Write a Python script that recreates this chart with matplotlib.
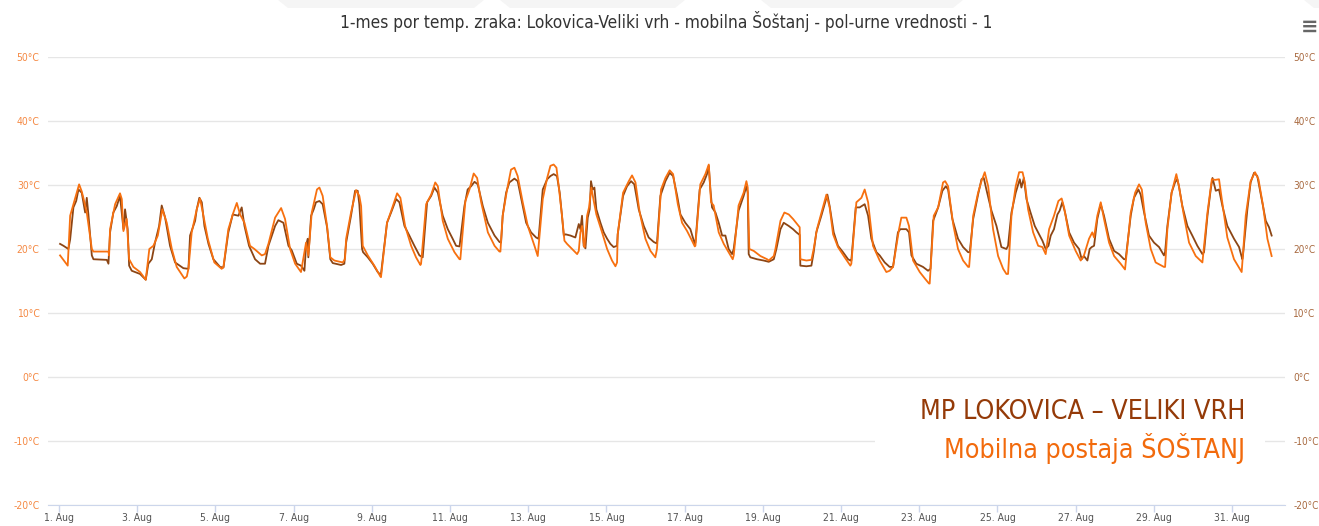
"""
1-mes por temperature zraka: Lokovica-Veliki vrh vs mobilna postaja Šoštanj.
Highcharts-like replica in matplotlib.
"""
import matplotlib
matplotlib.use("Agg")
import matplotlib.pyplot as plt
import matplotlib.dates as mdates
import pandas as pd
from matplotlib import font_manager
from matplotlib.font_manager import FontProperties
from matplotlib.patches import Polygon, Rectangle

plt.rcParams["font.family"] = ["Liberation Sans", "DejaVu Sans"]

# look for a condensed sans face (the reference uses narrow fonts)
_cond = [f for f in font_manager.fontManager.ttflist
         if ("Narrow" in f.name or "Condensed" in f.name or "condensed" in str(f.stretch))
         and f.style == "normal" and f.weight in (400, "normal", "regular")
         and "Serif" not in f.name and "Mono" not in f.name]
COND_FILE = _cond[0].fname if _cond else None

# colours
C_BROWN = "#8c4514"
C_ORANGE = "#f7700f"
C_TXT_BROWN = "#943a08"
C_TXT_ORANGE = "#f26a0c"
C_GRID = "#e6e6e6"
C_AXIS = "#ccd6eb"

START = pd.Timestamp("2019-08-01 00:00")

# --- MP Lokovica - Veliki vrh (hours since 1 Aug 00:00, degC) ---
lok_hours = [
    0.6, 2.7, 5.7, 6.8, 8.8, 10.5, 11.9, 13.9, 16.0, 17.0, 18.0, 20.1, 21.1, 29.3, 30.3,
    31.3, 33.3, 35.4, 37.4, 39.5, 40.5, 42.1, 43.0, 44.6, 49.7, 52.8,
    53.2, 54.8, 56.9, 58.9, 61.4, 63.0, 65.1, 68.1, 71.2, 76.3, 79.4,
    80.4, 83.5, 84.5, 86.1, 87.6, 89.2, 91.7, 94.7, 98.8, 100.9,
    103.9, 106.6, 110.1, 112.1, 113.8, 116.6, 120.3, 123.4, 126.4,
    128.5, 132.6, 134.6, 137.7, 140.8, 142.8, 145.9, 148.5,
    150.6, 151.6, 152.6, 153.0, 154.7, 156.3, 157.7, 159.8, 161.8, 164.5, 166.5, 168.0, 173.1, 175.1,
    176.2, 179.2, 181.7, 183.3, 184.3, 186.0, 186.6, 189.5, 192.5, 195.6, 197.2,
    197.6, 201.3, 203.8, 206.9, 208.9, 212.0, 215.0, 218.1, 221.2, 223.2,
    225.9, 228.4, 230.4, 232.5, 235.5, 238.6, 241.6, 243.7, 245.8,
    248.8, 250.8, 252.9, 255.0, 257.0, 260.1, 263.2, 267.3, 270.3, 271.3,
    272.3, 274.4, 276.4, 279.5, 281.5, 284.6, 286.7, 289.7, 292.8, 294.3,
    296.9, 299.6, 301.6, 303.6, 305.6, 307.3, 308.7, 309.8, 310.8, 313.9, 316.9, 319.0, 320.0, 321.0, 322.0, 323.1,
    324.5, 325.7, 326.5, 327.5, 328.6, 329.8, 332.3, 334.3, 336.4, 338.4, 340.4, 342.5,
    342.9, 346.2, 348.6, 351.1, 353.1, 355.8, 358.9, 361.9, 365.0, 366.6,
    367.0, 369.1, 372.2, 374.8, 376.9, 379.4, 381.4, 384.4, 387.5, 390.2,
    390.6, 393.2, 395.7, 397.7, 398.8, 399.8, 400.8, 402.9, 404.9, 407.0, 409.0, 411.0, 413.1,
    414.1, 417.1, 420.2, 421.9, 422.7, 423.3, 424.3, 428.4, 432.5, 435.6,
    438.7, 440.3, 442.8, 444.8, 447.9, 450.5, 452.6, 454.6, 455.0, 458.7, 461.8, 463.2,
    464.8, 467.9, 469.9, 471.6, 473.0, 475.5, 478.1, 481.2, 484.3, 485.7,
    486.3, 489.0, 491.4, 494.5, 496.6, 498.6, 501.7, 503.7, 506.8, 509.8, 511.9,
    514.9, 516.4, 520.1, 521.7, 523.2, 526.2, 530.3, 533.4, 534.9,
    536.5, 539.6, 542.2, 544.3, 545.7, 548.3, 551.8, 554.9, 558.0, 559.0,
    561.1, 564.1, 566.2, 567.6, 569.2, 572.3, 575.4, 578.4, 581.5, 582.5,
    584.6, 587.2, 589.7, 590.7, 592.2, 593.8, 596.3, 598.9, 601.6,
    603.6, 605.6, 607.3, 608.7, 610.7, 612.8, 614.2, 615.8, 617.5, 620.0, 623.0, 626.1, 627.7, 629.1,
    631.2, 632.6, 633.8, 635.3, 637.3, 639.4, 641.4, 644.5, 647.6, 650.6, 653.7, 654.7,
    657.8, 659.8, 662.5, 663.9, 666.0, 669.0, 672.1, 675.2, 678.2,
    678.9, 680.3, 682.9, 685.0, 686.4, 687.4, 689.5, 692.6, 695.6, 698.7, 701.8, 702.8,
    704.9, 706.9, 708.0, 710.0, 712.0, 714.1, 717.1, 721.2, 724.3, 726.3, 726.7,
    729.4, 731.4, 733.5, 735.5, 738.2, 740.7, 742.7, 744.3,
]
lok_temp = [
    20.8, 20.5, 20.0, 21.5, 26.5, 27.5, 29.3, 28.8, 25.7, 28.0, 25.4, 19.0, 18.4, 18.3, 17.7,
    22.6, 25.7, 26.7, 28.3, 23.1, 26.2, 23.1, 17.4, 16.6, 16.1, 15.3,
    15.2, 17.7, 18.4, 21.0, 23.6, 26.8, 24.9, 20.5, 17.9, 17.0, 16.9,
    22.1, 24.4, 26.2, 28.0, 27.3, 23.6, 20.8, 18.4, 17.2, 17.1,
    22.6, 25.4, 25.2, 26.5, 23.6, 20.5, 18.4, 17.7, 17.7,
    20.5, 23.6, 24.5, 24.1, 20.5, 19.8, 17.7, 17.4,
    16.6, 20.5, 21.6, 18.7, 25.2, 26.2, 27.3, 27.5, 27.0, 23.4, 18.4, 17.8, 17.5, 17.7,
    21.0, 25.2, 29.1, 29.1, 27.0, 20.0, 19.5, 18.7, 17.7, 16.4, 16.0,
    16.1, 24.1, 25.7, 27.8, 27.3, 23.6, 22.1, 20.5, 19.0, 18.7,
    27.3, 28.3, 29.6, 28.8, 25.2, 23.1, 21.6, 20.5, 20.4,
    26.7, 29.3, 29.8, 30.5, 30.1, 26.7, 24.1, 22.1, 21.1, 21.0,
    25.2, 28.8, 30.4, 31.0, 30.6, 26.7, 24.1, 22.6, 21.8, 21.6,
    29.3, 30.9, 31.4, 31.7, 31.4, 28.8, 25.2, 22.1, 22.3, 22.1, 21.8, 23.9, 23.1, 25.2, 20.5, 20.1,
    24.9, 26.2, 30.6, 29.3, 29.6, 26.2, 24.1, 22.6, 21.6, 20.8, 20.3, 20.5,
    22.3, 28.3, 29.8, 30.6, 30.1, 26.2, 23.6, 21.8, 21.1, 20.9,
    20.9, 28.3, 30.6, 31.9, 31.4, 28.3, 25.4, 24.1, 23.1, 20.8,
    21.0, 29.3, 30.4, 31.7, 33.0, 29.3, 26.5, 25.7, 24.1, 22.1, 22.1, 20.0, 19.2,
    20.0, 26.0, 28.3, 29.8, 28.8, 19.2, 18.7, 18.4, 18.2, 18.0,
    18.4, 20.0, 23.1, 24.1, 23.6, 23.1, 22.6, 22.2, 17.4, 17.3, 17.4, 19.5,
    22.6, 25.2, 27.0, 28.5, 26.7, 22.6, 20.5, 19.5, 18.4, 18.2,
    18.2, 26.5, 26.5, 27.0, 25.2, 21.6, 19.5, 19.0, 17.9, 17.2, 17.2,
    22.6, 23.1, 23.1, 22.6, 19.0, 17.7, 17.2, 16.6, 16.9,
    24.4, 26.5, 29.1, 29.8, 29.3, 24.7, 21.6, 20.3, 19.5, 19.5,
    24.7, 28.5, 30.9, 31.1, 29.3, 26.0, 23.6, 20.3, 20.0, 20.5,
    25.7, 28.8, 30.9, 29.6, 31.1, 27.8, 25.7, 23.6, 22.3,
    21.3, 20.0, 20.5, 22.1, 23.1, 25.4, 26.0, 27.3, 25.7, 22.6, 21.0, 20.0, 18.4, 18.9,
    18.2, 20.0, 20.3, 20.5, 24.7, 27.0, 25.2, 21.6, 19.7, 19.2, 18.4, 18.4,
    25.2, 28.0, 29.3, 28.5, 25.7, 22.1, 21.0, 20.3, 19.0,
    19.5, 23.6, 28.8, 30.4, 30.9, 29.8, 26.7, 23.6, 22.1, 20.5, 19.2, 19.5,
    25.2, 29.3, 31.1, 29.1, 29.3, 26.7, 23.6, 21.6, 20.3, 18.4, 19.0,
    26.2, 30.4, 31.9, 31.4, 27.8, 24.4, 23.4, 22.1,
]

# --- Mobilna postaja Šoštanj (hours since 1 Aug 00:00, degC) ---
sos_hours = [
    0.6, 5.3, 6.8, 8.8, 12.3, 13.9, 14.9, 17.0, 20.1, 21.1, 30.3, 30.7,
    31.3, 34.4, 37.4, 38.5, 39.5, 41.5, 43.0, 45.6, 49.7, 53.2,
    55.4, 57.9, 60.6, 63.4, 66.1, 69.2, 72.2, 76.9, 78.4,
    79.4, 81.4, 84.5, 86.5, 88.6, 91.3, 95.3, 99.8, 100.9,
    103.9, 107.0, 109.1, 111.1, 113.8, 117.2, 119.9, 124.4, 126.4,
    128.5, 132.6, 136.3, 138.7, 141.8, 144.9, 148.5,
    151.6, 153.0, 155.1, 158.3, 159.8, 161.8, 164.5, 166.5, 169.0, 174.1, 175.5,
    176.2, 179.2, 182.3, 184.3, 185.4, 186.4, 189.5, 193.5, 197.2,
    197.6, 201.3, 204.2, 207.5, 209.5, 212.4, 216.1, 219.1, 221.8,
    222.2, 225.3, 228.4, 230.9, 232.5, 235.5, 238.6, 242.7, 245.8,
    246.3, 249.4, 251.9, 254.5, 256.6, 259.1, 263.2, 267.3, 270.3,
    270.9, 272.3, 275.0, 277.4, 279.5, 281.5, 284.6, 287.7, 291.8, 293.8,
    296.9, 299.6, 301.6, 303.6, 305.3, 306.7, 308.7, 310.2, 311.8, 314.9, 318.0, 319.0, 320.0, 321.0, 322.0,
    322.5, 324.1, 325.3, 326.7, 328.2, 329.8, 333.3, 336.4, 339.4, 341.5, 342.5,
    342.9, 346.2, 349.7, 351.7, 353.8, 356.4, 359.9, 363.0, 366.0,
    367.0, 369.5, 372.2, 374.8, 376.9, 379.8, 382.4, 385.5, 388.5, 390.2,
    390.6, 393.6, 396.7, 398.8, 400.2, 401.8, 404.9, 408.0, 411.0, 413.5,
    414.1, 417.1, 420.2, 421.9, 422.7, 423.7, 426.4, 430.5, 434.6,
    435.6, 438.7, 439.7, 442.8, 445.2, 447.9, 450.5, 454.6, 455.0, 458.7, 461.8, 463.2,
    465.2, 468.5, 471.0, 473.0, 475.1, 478.1, 482.2, 485.7,
    486.3, 489.4, 492.5, 494.5, 496.6, 499.6, 503.7, 507.8, 509.8,
    511.9, 515.6, 517.0, 520.1, 521.7, 524.2, 528.3, 531.4, 534.0,
    534.4, 536.9, 539.6, 542.6, 543.9, 545.7, 548.8, 551.8, 554.9, 558.0,
    558.6, 561.1, 564.1, 566.2, 568.2, 570.3, 573.3, 576.4, 579.5, 581.5,
    582.5, 584.6, 587.2, 589.3, 591.4, 592.8, 594.8, 597.9, 601.0,
    603.6, 605.6, 607.7, 610.7, 613.4, 615.4, 616.9, 620.0, 624.0, 627.1, 629.1,
    632.2, 634.2, 635.3, 637.3, 639.4, 641.4, 644.5, 647.6, 651.6, 654.3,
    657.8, 660.5, 662.9, 664.6, 667.0, 670.1, 673.1, 678.2,
    678.9, 680.3, 682.9, 685.8, 687.4, 690.1, 693.6, 697.7, 701.8,
    704.9, 707.6, 709.6, 712.0, 713.7, 717.1, 721.2, 725.9,
    728.4, 731.4, 734.1, 736.2, 739.0, 741.7, 744.3,
]
sos_temp = [
    19.0, 17.4, 25.2, 27.0, 30.1, 29.0, 28.0, 25.7, 20.0, 19.6, 19.6, 19.0,
    23.1, 27.0, 28.7, 27.8, 22.8, 24.7, 18.4, 17.2, 16.4, 15.2,
    20.0, 20.5, 22.1, 26.2, 24.1, 20.0, 17.2, 15.4, 15.7,
    16.9, 22.6, 26.2, 27.9, 25.2, 21.6, 17.9, 16.9, 17.2,
    23.1, 25.7, 27.2, 25.4, 24.1, 20.5, 20.0, 19.0, 19.2,
    20.8, 24.9, 26.4, 24.7, 20.0, 17.7, 16.4,
    21.0, 19.0, 25.7, 29.3, 29.6, 28.3, 23.6, 18.7, 18.2, 17.9, 18.4,
    21.6, 25.7, 29.2, 28.3, 26.7, 20.5, 19.0, 17.4, 15.7,
    15.6, 24.1, 26.2, 28.7, 28.0, 23.6, 20.5, 18.7, 17.5,
    17.7, 27.0, 28.5, 30.4, 29.8, 24.4, 21.6, 19.5, 18.4,
    18.4, 27.5, 29.3, 31.8, 31.1, 27.3, 22.6, 20.5, 19.6,
    19.6, 25.2, 29.3, 32.4, 32.7, 31.4, 27.3, 23.6, 20.5, 18.9,
    27.8, 31.1, 33.0, 33.2, 32.7, 29.8, 25.2, 21.3, 20.8, 20.0, 19.2, 19.7, 22.6, 23.6, 21.0,
    20.3, 25.2, 26.5, 29.6, 27.5, 25.4, 22.6, 20.0, 18.2, 17.3, 17.9,
    22.3, 28.8, 30.6, 31.5, 30.4, 25.7, 21.6, 19.7, 18.7,
    20.0, 29.3, 31.1, 32.3, 31.7, 27.0, 24.1, 22.8, 21.3, 20.4,
    20.5, 30.1, 31.7, 33.2, 27.3, 26.8, 22.6, 20.8, 19.5, 18.4,
    19.0, 26.8, 28.8, 30.6, 29.6, 20.0, 19.7, 18.9, 18.4,
    18.2, 18.9, 20.0, 24.4, 25.7, 25.4, 24.7, 23.4, 18.4, 18.2, 18.3, 20.0,
    23.1, 26.2, 28.5, 26.5, 22.3, 20.3, 18.7, 17.4,
    17.7, 27.3, 28.0, 29.3, 27.3, 20.5, 18.2, 16.4, 16.6,
    17.2, 23.1, 24.9, 24.9, 23.6, 18.2, 16.4, 15.4, 14.6,
    14.6, 25.2, 26.5, 30.4, 30.6, 29.8, 23.9, 20.0, 18.2, 17.2,
    17.2, 25.2, 28.8, 30.6, 32.0, 29.8, 23.1, 18.9, 16.9, 16.1,
    16.1, 25.2, 29.8, 32.0, 32.0, 30.4, 26.2, 22.6, 20.5,
    20.3, 19.2, 23.1, 25.2, 27.5, 27.9, 26.5, 22.1, 19.7, 18.2, 19.0,
    21.6, 22.6, 21.8, 25.2, 27.3, 24.7, 21.0, 18.9, 17.7, 16.8,
    25.7, 28.8, 30.1, 29.3, 24.1, 20.0, 17.9, 17.2,
    17.2, 23.1, 28.8, 31.7, 29.8, 25.7, 21.0, 18.9, 17.9,
    25.7, 30.9, 30.8, 30.9, 27.8, 21.8, 18.4, 16.4,
    25.2, 30.6, 32.0, 30.9, 26.8, 21.6, 18.9,
]

y_ticks = [-20, -10, 0, 10, 20, 30, 40, 50]
x_ticks = pd.date_range(START, periods=16, freq="2D")
title = "1-mes por temp. zraka: Lokovica-Veliki vrh - mobilna Šoštanj - pol-urne vrednosti - 1"
label_lok = "MP LOKOVICA – VELIKI VRH"
label_sos = "Mobilna postaja ŠOŠTANJ"


def font(size):
    if COND_FILE:
        return FontProperties(fname=COND_FILE, size=size)
    return FontProperties(family=["Liberation Sans", "DejaVu Sans"], size=size * 0.88)


W, H = 1319, 526
fig = plt.figure(figsize=(W / 100, H / 100), dpi=100, facecolor="white")
ax = fig.add_axes([48 / W, 1 - 505 / H, (1285 - 48) / W, (505 - 57) / H])

# faint decorative shapes at top of page
for x0, x1 in [(278, 484), (500, 685), (761, 963), (1304, 1330)]:
    fig.patches.append(Polygon(
        [(x0 / W, 1.0), (x1 / W, 1.0), ((x1 - 10) / W, 1 - 8 / H), ((x0 + 10) / W, 1 - 8 / H)],
        closed=True, transform=fig.transFigure, facecolor="#f5f5f5", edgecolor="none"))

t_lok = START + pd.to_timedelta(lok_hours, unit="h")
t_sos = START + pd.to_timedelta(sos_hours, unit="h")
ax.plot(t_lok, lok_temp, color=C_BROWN, lw=1.3, zorder=3)
ax.plot(t_sos, sos_temp, color=C_ORANGE, lw=1.3, zorder=4)

ax.set_ylim(-20, 50)
ax.set_xlim(START - pd.Timedelta(hours=6.8), START + pd.Timedelta(hours=752.5))
ax.set_yticks(y_ticks)
ax.yaxis.set_major_formatter(plt.FuncFormatter(lambda v, p: f"{v:.0f}°C"))
ax.grid(axis="y", color=C_GRID, lw=1)
ax.set_axisbelow(True)
ax.tick_params(axis="y", length=0, pad=6, labelright=True)
for tk in ax.yaxis.get_major_ticks():
    tk.label1.set_color("#f58a45")
    tk.label2.set_color("#a8693f")
    tk.label1.set_fontproperties(font(7.5))
    tk.label2.set_fontproperties(font(7.2))

ax.set_xticks(x_ticks)
ax.xaxis.set_major_formatter(mdates.DateFormatter("%-d. %b"))
ax.tick_params(axis="x", length=5, width=1, color=C_AXIS,
               labelcolor="#555555", pad=0.5)
for lbl in ax.get_xticklabels():
    lbl.set_fontproperties(font(7.5))
for side in ["left", "right", "top"]:
    ax.spines[side].set_visible(False)
ax.spines["bottom"].set_color(C_AXIS)

# white box behind the station labels (hides the -10 grid line)
fig.patches.append(Rectangle((875 / W, 1 - 466 / H), (1265 - 875) / W, 70 / H,
                             transform=fig.transFigure, facecolor="white",
                             edgecolor="none", zorder=5))
fig.text(1245 / W, 1 - 412 / H, label_lok, ha="right", va="center",
         fontproperties=font(19.3), color=C_TXT_BROWN, zorder=6)
fig.text(1245 / W, 1 - 448 / H, label_sos, ha="right", va="center",
         fontproperties=font(19.3), color=C_TXT_ORANGE, zorder=6)

fig.text(666 / W, 1 - 22 / H, title, ha="center", va="center",
         fontproperties=font(12.4), color="#333333")
fig.text(1310 / W, 1 - 27 / H, "≡", ha="center", va="center",
         fontsize=15, color="#666666", family="DejaVu Sans", fontweight="bold")

fig.savefig("out.png", dpi=100, facecolor="white")
